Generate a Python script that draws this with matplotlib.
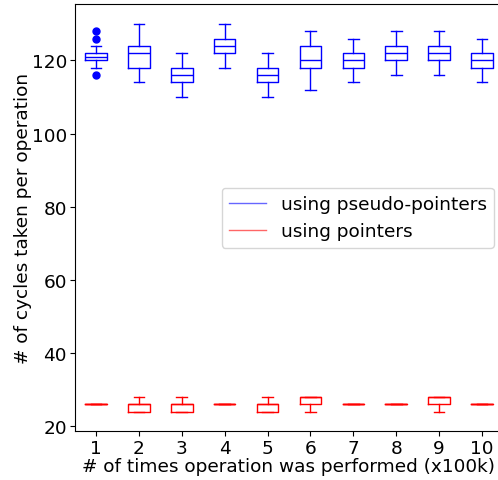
import matplotlib.pyplot as plt

# box statistics per run size (x100k operations)
runs = [1, 2, 3, 4, 5, 6, 7, 8, 9, 10]

# pseudo-pointer version
pp_med = [121, 122, 116, 124, 116, 120, 120, 122, 122, 120]
pp_q1 = [120, 118, 114, 122, 114, 118, 118, 120, 120, 118]
pp_q3 = [122, 124, 118, 126, 118, 124, 122, 124, 124, 122]
pp_lo = [118, 114, 110, 118, 110, 112, 114, 116, 116, 114]
pp_hi = [124, 130, 122, 130, 122, 128, 126, 128, 128, 126]
pp_fliers = [[116, 126, 128], [], [], [], [], [], [], [], [], []]

# plain pointer version
p_med = [26, 26, 26, 26, 26, 28, 26, 26, 28, 26]
p_q1 = [26, 24, 24, 26, 24, 26, 26, 26, 26, 26]
p_q3 = [26, 26, 26, 26, 26, 28, 26, 26, 28, 26]
p_lo = [26, 24, 24, 26, 24, 24, 26, 26, 24, 26]
p_hi = [26, 28, 28, 26, 28, 28, 26, 26, 28, 26]


def make_stats(med, q1, q3, lo, hi, fliers=None):
    stats = []
    for i in range(len(med)):
        stats.append({
            'med': med[i], 'q1': q1[i], 'q3': q3[i],
            'whislo': lo[i], 'whishi': hi[i],
            'fliers': fliers[i] if fliers else [],
        })
    return stats


def style(color):
    return dict(
        boxprops=dict(color=color, linewidth=1),
        medianprops=dict(color=color, linewidth=1),
        whiskerprops=dict(color=color, linewidth=1),
        capprops=dict(color=color, linewidth=1),
        flierprops=dict(marker='o', markerfacecolor=color, markeredgecolor=color, markersize=5),
    )


plt.rcParams['font.size'] = 13.3

fig = plt.figure(figsize=(4.98, 4.81), dpi=100)
ax = fig.add_axes([0.1498, 0.1019, 0.861, 0.8867])

ax.bxp(make_stats(pp_med, pp_q1, pp_q3, pp_lo, pp_hi, pp_fliers), positions=runs, **style('#0000ff'))
ax.bxp(make_stats(p_med, p_q1, p_q3, p_lo, p_hi), positions=runs, **style('#ff0000'))

ax.plot([], [], color='#0000ff', linewidth=1, alpha=0.6, label='using pseudo-pointers')
ax.plot([], [], color='#ff0000', linewidth=1, alpha=0.6, label='using pointers')
ax.legend(loc='center right')

ax.set_xticks(runs)
ax.set_xticklabels([str(r) for r in runs])
ax.tick_params(axis='x', pad=2)
ax.tick_params(axis='y', pad=2)
ax.set_xlim(0.5, 10.5)
ax.set_ylim(18.7, 135.3)
ax.set_xlabel('# of times operation was performed (x100k)', labelpad=0)
ax.set_ylabel('# of cycles taken per operation', labelpad=0)

fig.savefig('out.png', dpi=100)
